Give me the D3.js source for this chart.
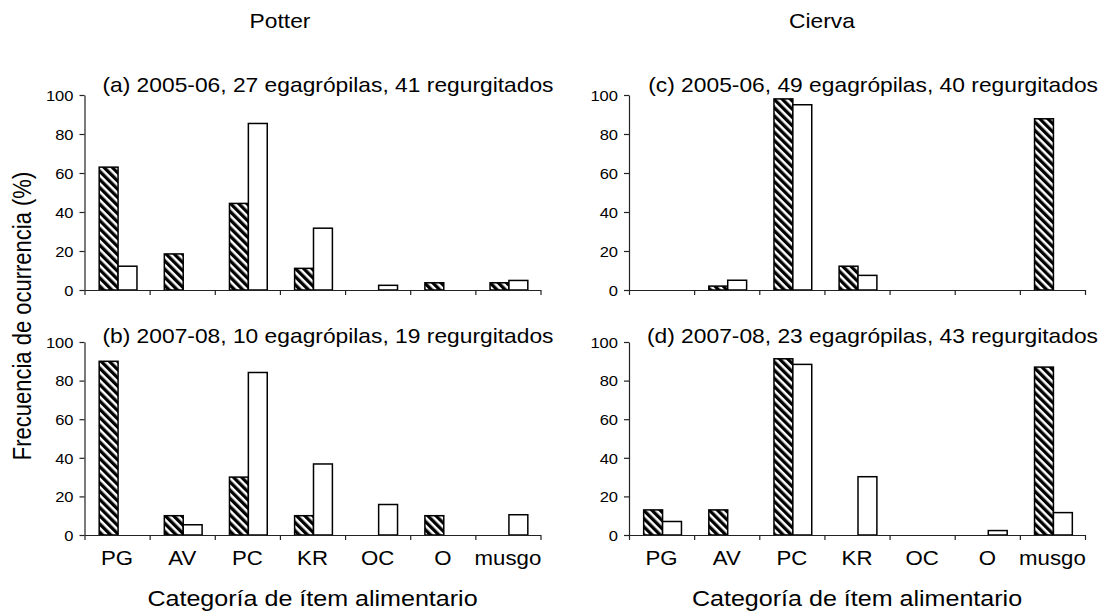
<!DOCTYPE html>
<html>
<head>
<meta charset="utf-8">
<script src="https://cdn.jsdelivr.net/npm/d3@7"></script>
<style>
  html, body { margin: 0; padding: 0; background: #fff; }
  svg { display: block; }
  text { font-family: "Liberation Sans", Arial, Helvetica, sans-serif; fill: #000; }
</style>
</head>
<body>
<svg id="chart" width="1110" height="616"></svg>
<script>
// Food item categories (x axis)
const categories = ["PG", "AV", "PC", "KR", "OC", "O", "musgo"];
const yTicks = [0, 20, 40, 60, 80, 100];

// Frequency of occurrence (%): pellets (egagrópilas, hatched) and regurgitates (white)
const potter0506Pellets = [63.0, 18.5, 44.4, 11.1, 0, 3.7, 3.7];
const potter0506Regurg  = [12.2, 0, 85.4, 31.7, 2.4, 0, 4.9];
const potter0708Pellets = [90.0, 10.0, 30.0, 10.0, 0, 10.0, 0];
const potter0708Regurg  = [0, 5.3, 84.2, 36.8, 15.8, 0, 10.5];
const cierva0506Pellets = [0, 2.0, 98.0, 12.2, 0, 0, 87.8];
const cierva0506Regurg  = [0, 5.0, 95.0, 7.5, 0, 0, 0];
const cierva0708Pellets = [13.0, 13.0, 91.3, 0, 0, 0, 87.0];
const cierva0708Regurg  = [7.0, 0, 88.4, 30.2, 0, 2.3, 11.6];

const panelTitles = [
  "(a) 2005-06, 27 egagrópilas, 41 regurgitados",
  "(b) 2007-08, 10 egagrópilas, 19 regurgitados",
  "(c) 2005-06, 49 egagrópilas, 40 regurgitados",
  "(d) 2007-08, 23 egagrópilas, 43 regurgitados"
];
const columnTitles = ["Potter", "Cierva"];
const yTitle = "Frecuencia de ocurrencia (%)";
const xTitle = "Categoría de ítem alimentario";

const panels = [
  { col: 0, row: 0, title: panelTitles[0], pellets: potter0506Pellets, regurg: potter0506Regurg },
  { col: 0, row: 1, title: panelTitles[1], pellets: potter0708Pellets, regurg: potter0708Regurg },
  { col: 1, row: 0, title: panelTitles[2], pellets: cierva0506Pellets, regurg: cierva0506Regurg },
  { col: 1, row: 1, title: panelTitles[3], pellets: cierva0708Pellets, regurg: cierva0708Regurg }
];

// Layout
const colX = [[84.5, 540.5], [629, 1085]];
const rowY = [[290, 95], [535, 342]];
const titleX = [280, 822];
const SX = 1.14;   // horizontal text widening
const FONT_TICK = 14.5, FONT_CAT = 19.5, FONT_TITLE = 20, FONT_AXIS = 22, FONT_COL = 20;

const svg = d3.select("#chart");

// Diagonal hatch used for the pellet bars
const defs = svg.append("defs");
const pat = defs.append("pattern")
  .attr("id", "hatch")
  .attr("patternUnits", "userSpaceOnUse")
  .attr("width", 5.8).attr("height", 10)
  .attr("patternTransform", "rotate(-45)");
pat.append("rect").attr("width", 5.8).attr("height", 10).attr("fill", "#fff");
pat.append("rect").attr("width", 3.3).attr("height", 10).attr("fill", "#000");

function stretchedText(g, x, y, str, size, anchor) {
  return g.append("text")
    .attr("transform", `translate(${x},${y}) scale(${SX},1)`)
    .attr("text-anchor", anchor)
    .style("font-size", size + "px")
    .text(str);
}

panels.forEach(p => {
  const [x0, x1] = colX[p.col];
  const [yb, yt] = rowY[p.row];
  const g = svg.append("g");

  const x = d3.scaleBand().domain(categories).range([x0, x1]).paddingInner(0).paddingOuter(0);
  const y = d3.scaleLinear().domain([0, 100]).range([yb, yt]);
  const bw = x.bandwidth() * 0.29;

  // Bars: hatched (pellets) left of band centre, white (regurgitates) right
  const rows = categories.map((c, i) => ({ c, pel: p.pellets[i], reg: p.regurg[i] }));
  const ctr = d => x(d.c) + x.bandwidth() / 2 + 1;

  g.selectAll("rect.pel").data(rows.filter(d => d.pel > 0)).join("rect")
    .attr("class", "pel")
    .attr("x", d => ctr(d) - bw)
    .attr("y", d => y(d.pel))
    .attr("width", bw)
    .attr("height", d => y(0) - y(d.pel))
    .attr("fill", "url(#hatch)")
    .attr("stroke", "#000").attr("stroke-width", 1.5);

  g.selectAll("rect.reg").data(rows.filter(d => d.reg > 0)).join("rect")
    .attr("class", "reg")
    .attr("x", d => ctr(d))
    .attr("y", d => y(d.reg))
    .attr("width", bw)
    .attr("height", d => y(0) - y(d.reg))
    .attr("fill", "#fff")
    .attr("stroke", "#000").attr("stroke-width", 1.5);

  // Y axis
  const yAxis = g.append("g")
    .attr("transform", `translate(${x0},0)`)
    .call(d3.axisLeft(y).tickValues(yTicks).tickSize(5).tickSizeOuter(0).tickPadding(6));
  yAxis.select(".domain").attr("stroke", "#222").attr("stroke-width", 1.2);
  yAxis.selectAll(".tick line").attr("stroke", "#222").attr("stroke-width", 1.2);
  yAxis.selectAll(".tick text").each(function () {
    const t = d3.select(this);
    const tx = +t.attr("x");
    t.attr("x", null).attr("dy", null)
      .attr("text-anchor", "end")
      .style("font-size", FONT_TICK + "px")
      .attr("transform", `translate(${tx},${0.36 * FONT_TICK}) scale(${SX},1)`);
  });
  yAxis.attr("font-family", null).attr("font-size", null);

  // X axis with ticks at category boundaries
  const xb = d3.scaleLinear().domain([0, categories.length]).range([x0, x1]);
  const xAxis = g.append("g")
    .attr("transform", `translate(0,${yb})`)
    .call(d3.axisBottom(xb).tickValues(d3.range(categories.length + 1)).tickSize(5).tickSizeOuter(0).tickFormat(""));
  xAxis.select(".domain").attr("stroke", "#222").attr("stroke-width", 1.2);
  xAxis.selectAll(".tick line").attr("stroke", "#222").attr("stroke-width", 1.2);

  // Category labels on the lower row only
  if (p.row === 1) {
    categories.forEach(c => {
      stretchedText(g, x(c) + x.bandwidth() / 2, yb + 30, c, FONT_CAT, "middle");
    });
    stretchedText(g, (x0 + x1) / 2, 606, xTitle, FONT_AXIS, "middle");
  }

  // Panel title
  stretchedText(g, x1 + 13, p.row === 0 ? 91.5 : 342.5, p.title, FONT_TITLE, "end");
});

// Column titles
columnTitles.forEach((t, i) => {
  stretchedText(svg, titleX[i], 28, t, FONT_COL, "middle");
});

// Shared y-axis title
svg.append("text")
  .attr("transform", `translate(31,316) scale(${SX},1) rotate(-90)`)
  .attr("text-anchor", "middle")
  .style("font-size", FONT_AXIS + "px")
  .text(yTitle);
</script>
</body>
</html>
